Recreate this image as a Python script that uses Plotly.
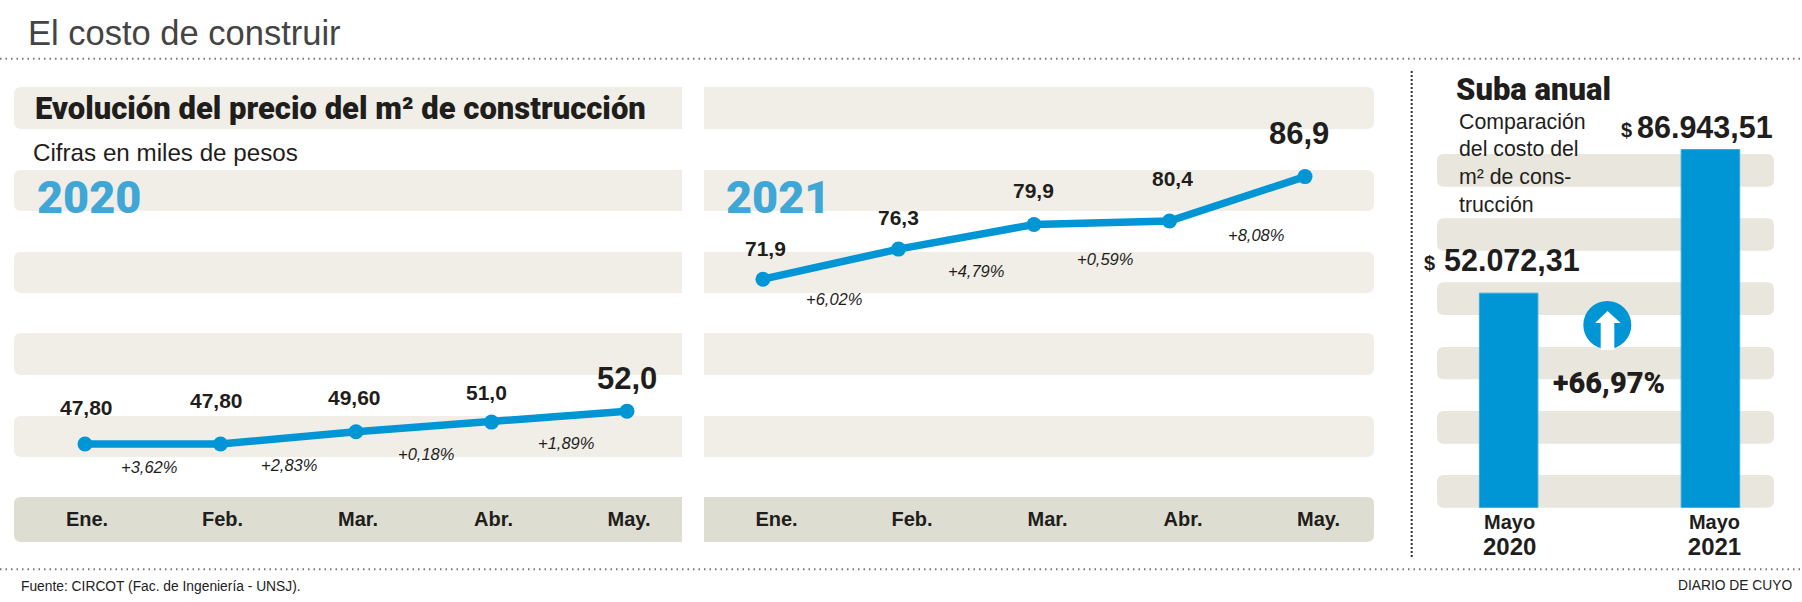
import plotly.graph_objects as go

W, H = 1802, 602

# ---------- data ----------
months = ["Ene.", "Feb.", "Mar.", "Abr.", "May."]
month_index = [0, 1, 2, 3, 4]
values_2020 = [47.8, 47.8, 49.6, 51.0, 52.6]      # as drawn in the picture
values_2021 = [71.9, 76.3, 79.9, 80.4, 86.9]
labels_2020 = ["47,80", "47,80", "49,60", "51,0", "52,0"]
labels_2021 = ["71,9", "76,3", "79,9", "80,4", "86,9"]
pct_2020 = ["+3,62%", "+2,83%", "+0,18%", "+1,89%"]
pct_2021 = ["+6,02%", "+4,79%", "+0,59%", "+8,08%"]
bar_index = [0, 1]
bar_values = [52072.31, 86943.51]
bar_ticks = ["Mayo<br><span style='font-size:24px'>2020</span>", "Mayo<br><span style='font-size:24px'>2021</span>"]

BLUE = "#0095D5"
YEAR = "#3FA7D6"
INK = "#1F1E1C"
SANS = "Liberation Sans"
HEAVY = "Roboto"


def px(x):
    return x / W


def py(y):
    return 1 - y / H


def rounded(x0, y0, x1, y1, left=True, right=True, r=7):
    """Path in paper coordinates for a band with optional rounded ends."""
    X = lambda v: f"{px(v):.5f}"
    Y = lambda v: f"{py(v):.5f}"
    rl = r if left else 0
    rr = r if right else 0
    d = f"M {X(x0 + rl)} {Y(y0)} L {X(x1 - rr)} {Y(y0)} "
    if rr:
        d += f"Q {X(x1)} {Y(y0)} {X(x1)} {Y(y0 + rr)} L {X(x1)} {Y(y1 - rr)} Q {X(x1)} {Y(y1)} {X(x1 - rr)} {Y(y1)} "
    else:
        d += f"L {X(x1)} {Y(y1)} "
    d += f"L {X(x0 + rl)} {Y(y1)} "
    if rl:
        d += f"Q {X(x0)} {Y(y1)} {X(x0)} {Y(y1 - rl)} L {X(x0)} {Y(y0 + rl)} Q {X(x0)} {Y(y0)} {X(x0 + rl)} {Y(y0)} "
    return d + "Z"


shapes = []


def band(x0, y0, x1, y1, color, **kw):
    shapes.append(dict(type="path", path=rounded(x0, y0, x1, y1, **kw), xref="paper", yref="paper",
                       fillcolor=color, line_width=0, layer="below"))


STRIPES = [(87, 129), (170, 211), (252, 293), (333, 375), (416, 457)]
for y0, y1 in STRIPES:
    band(14, y0, 682, y1, "#F0EEE7", right=False)
    band(704, y0, 1374, y1, "#F0EEE7", left=False)
band(14, 497, 682, 542, "#DEDDD1", right=False)
band(704, 497, 1374, 542, "#DEDDD1", left=False)
for y0, y1 in [(154, 186.7), (218.3, 250.7), (282.3, 315), (347, 379.3), (411, 443.7), (475, 507.7)]:
    band(1437, y0, 1774, y1, "#E9E6DD")


def rule(x0, y0, x1, y1, color="#777777", dash="1.5px,4px", width=2):
    shapes.append(dict(type="line", xref="paper", yref="paper", x0=px(x0), x1=px(x1), y0=py(y0), y1=py(y1),
                       line=dict(color=color, width=width, dash=dash), layer="above"))


rule(0, 58.7, W, 58.7)
rule(0, 569.3, W, 569.3)
rule(1411.7, 71, 1411.7, 558, color="#333333", dash="2px,2px")

# arrow badge
shapes.append(dict(type="circle", xref="paper", yref="paper", x0=px(1583.3), x1=px(1631.3), y0=py(301), y1=py(349),
                   fillcolor=BLUE, line_width=0, layer="above"))
arrow = [(1607.5, 311), (1620.7, 323), (1614.3, 323), (1614.3, 350), (1600.7, 350), (1600.7, 323), (1595, 323)]
shapes.append(dict(type="path", xref="paper", yref="paper", fillcolor="#FFFFFF", line_width=0, layer="above",
                   path="M " + " L ".join(f"{px(a):.5f} {py(b):.5f}" for a, b in arrow) + " Z"))

# ---------- traces ----------
fig = go.Figure()
line_style = dict(color=BLUE, width=7.5)
marker_style = dict(color=BLUE, size=15)
fig.add_trace(go.Scatter(x=month_index, y=values_2020, mode="lines+markers", line=line_style, marker=marker_style,
                         xaxis="x", yaxis="y", showlegend=False, name="2020"))
fig.add_trace(go.Scatter(x=month_index, y=values_2021, mode="lines+markers", line=line_style, marker=marker_style,
                         xaxis="x2", yaxis="y", showlegend=False, name="2021"))
fig.add_trace(go.Bar(x=bar_index, y=bar_values, width=0.29, marker=dict(color=BLUE, line=dict(color="#3AA8DC", width=1)),
                     xaxis="x3", yaxis="y3", showlegend=False, name="Suba anual"))

# ---------- text ----------
annotations = []


def text(x, y, s, size, color=INK, anchor="left", family=SANS, weight=None, italic=False):
    annotations.append(dict(x=px(x), y=py(y), xref="paper", yref="paper", text=s, showarrow=False, xanchor=anchor,
                            yanchor="middle", borderpad=0, borderwidth=0,
                            font=dict(family=family, size=size, color=color, weight=weight,
                                      style="italic" if italic else "normal")))


def tag(xaxis, x, y, s, dx, dy, size, bold=True, family=SANS, italic=False):
    annotations.append(dict(x=x, y=y, xref=xaxis, yref="y", text=s, showarrow=False, xanchor="center", yanchor="middle",
                            xshift=dx, yshift=dy, borderpad=0,
                            font=dict(family=family, size=size, color=INK, weight=700 if bold else 400,
                                      style="italic" if italic else "normal")))


value_dx_2020, value_dy_2020 = [1, -4, -1.5, -4.5, 0], [37, 43.3, 34.3, 30, 33]
value_dx_2021, value_dy_2021 = [3, 0.5, 0, 3, -6], [31, 32, 34.4, 43, 42.6]
pct_dx_2020, pct_dy_2020 = [63.7, 68.5, 70, 75], [-23, -21, -22, -21]
pct_dx_2021, pct_dy_2021 = [71, 77.5, 71, 86], [-20, -21.7, -34.6, -14]

for i in month_index:
    big = i == 4
    tag("x", i, values_2020[i], labels_2020[i], value_dx_2020[i], value_dy_2020[i], 31 if big else 21)
    tag("x2", i, values_2021[i], labels_2021[i], value_dx_2021[i], value_dy_2021[i], 31 if big else 21)
for i in month_index[:-1]:
    tag("x", i, values_2020[i], pct_2020[i], pct_dx_2020[i], pct_dy_2020[i], 16.5, bold=False, italic=True)
    tag("x2", i, values_2021[i], pct_2021[i], pct_dx_2021[i], pct_dy_2021[i], 16.5, bold=False, italic=True)

text(27.6, 33, "El costo de construir", 34.5, color="#444444")
text(35, 108, "Evolución del precio del m² de construcción", 31, family=HEAVY, weight=900)
text(33, 153, "Cifras en miles de pesos", 24.2)
text(37, 197, "2020", 45, color=YEAR, family=HEAVY, weight=900)
text(726, 197, "2021", 45, color=YEAR, family=HEAVY, weight=900)
text(1455.7, 90, "Suba anual", 31, family=HEAVY, weight=900)
for y, line in zip([121.7, 149, 177, 205], ["Comparación", "del costo del", "m² de cons-", "trucción"]):
    text(1459, y, line, 21.3)
text(1773, 126.7, "86.943,51", 30.5, anchor="right", weight=700)
text(1621, 130, "$", 20, weight=700)
text(1580, 260, "52.072,31", 30.5, anchor="right", weight=700)
text(1424, 263, "$", 20, weight=700)
text(1609, 383, "+66,97%", 29, anchor="center", family=HEAVY, weight=900)
text(20.5, 586, "Fuente: CIRCOT (Fac. de Ingeniería - UNSJ).", 13.8, color="#222222")
text(1792, 585.7, "DIARIO DE CUYO", 13.8, color="#222222", anchor="right")

# ---------- layout ----------
tick_font = dict(family=SANS, size=20, color=INK, weight=700)
common_x = dict(showgrid=False, zeroline=False, showline=False, ticks="", tickmode="array", tickfont=tick_font, anchor="y")
fig.update_layout(
    width=W, height=H, autosize=False,
    margin=dict(l=0, r=0, t=0, b=0, pad=0),
    paper_bgcolor="#FFFFFF", plot_bgcolor="rgba(0,0,0,0)",
    xaxis=dict(domain=[px(14), px(682)], range=[-0.524, 4.406], tickvals=[i + 0.015 for i in month_index],
               ticktext=months, **common_x),
    xaxis2=dict(domain=[px(704), px(1374)], range=[-0.435, 4.509], tickvals=[i + 0.1 for i in month_index],
                ticktext=months, **common_x),
    yaxis=dict(domain=[py(505), py(87)], range=[38.88, 100], visible=False, fixedrange=True),
    xaxis3=dict(domain=[px(1437), px(1774)], range=[-0.355, 1.315], showgrid=False, zeroline=False, showline=False,
                ticks="", tickmode="array", tickvals=[0.005, 1.02], ticktext=bar_ticks, anchor="y3",
                tickfont=dict(family=SANS, size=20, color=INK, weight=700)),
    yaxis3=dict(domain=[py(507.7), py(95.7)], range=[0, 100000], visible=False, fixedrange=True, anchor="x3"),
    shapes=shapes, annotations=annotations, hovermode=False,
)

fig.write_html("out.html", config=dict(displayModeBar=False),
               post_script="document.body.style.margin='0';document.body.style.overflow='hidden';")
